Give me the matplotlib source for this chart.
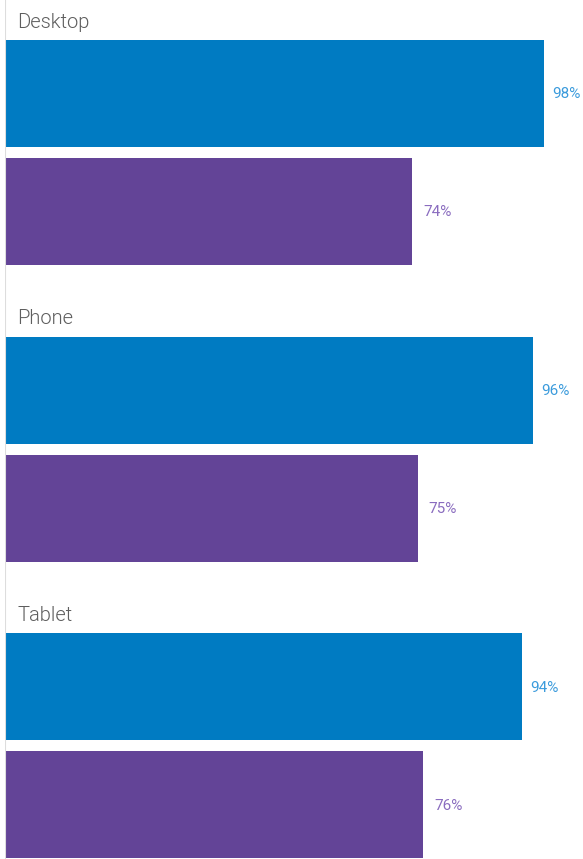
import matplotlib.pyplot as plt

groups = ["Desktop", "Phone", "Tablet"]
series_a = [98, 96, 94]   # blue
series_b = [74, 75, 76]   # purple

blue = "#007bc2"
purple = "#634497"
blue_lbl = "#3b9bdc"
purple_lbl = "#8a6cbf"

W, H = 583, 859
fig = plt.figure(figsize=(W / 100, H / 100), dpi=100)
ax = fig.add_axes([5 / W, 0, 1 - 5 / W, 1])

px = 5.5          # pixels per percent
ax.set_xlim(0, (W - 5) / px)
ax.set_ylim(H, 0)

period = 296.5
bar_h = 107
for i, g in enumerate(groups):
    top = 40 + i * period
    ya = top + bar_h / 2
    yb = top + bar_h + 11 + bar_h / 2
    ax.barh(ya, series_a[i], height=bar_h, color=blue)
    ax.barh(yb, series_b[i], height=bar_h, color=purple)
    ax.text(series_a[i] + 8 / px, ya + 1, f"{series_a[i]}%", color=blue_lbl,
            va="center", ha="left", fontsize=11, family="Roboto")
    ax.text(series_b[i] + 11 / px, yb + 1, f"{series_b[i]}%", color=purple_lbl,
            va="center", ha="left", fontsize=11, family="Roboto")
    ax.text(12 / px, top - 12, g, color="#5e5e5e", va="baseline", ha="left",
            fontsize=14.5, family="Roboto", fontweight=300)

ax.axvline(0, color="#dddddd", lw=1.5)
for s in ax.spines.values():
    s.set_visible(False)
ax.set_xticks([])
ax.set_yticks([])

fig.savefig("out.png", dpi=100)
